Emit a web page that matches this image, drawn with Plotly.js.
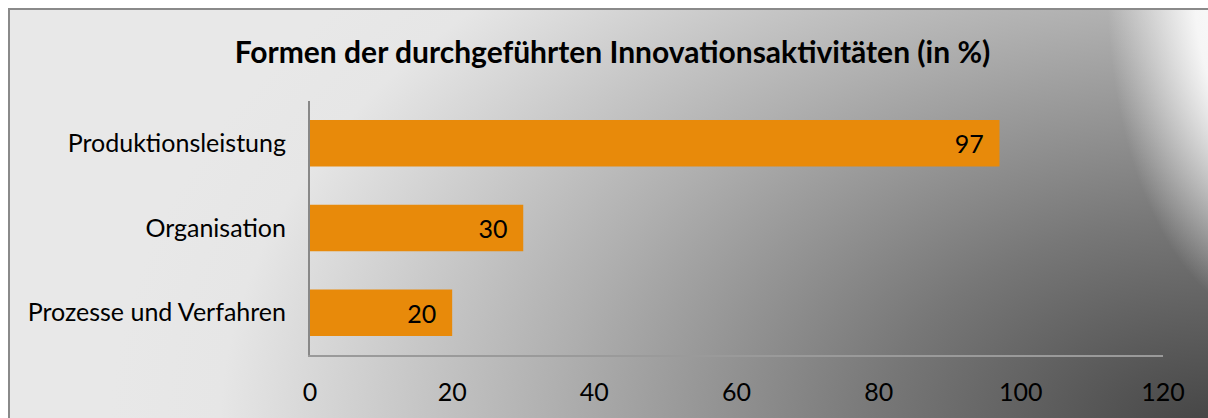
<!DOCTYPE html>
<html>
<head>
<meta charset="utf-8">
<script src="https://cdn.plot.ly/plotly-3.0.1.min.js"></script>
<style>
  html, body { margin: 0; padding: 0; background: #ffffff; overflow: hidden; }
  #frame {
    position: absolute; left: 8px; top: 8px; width: 1200px; height: 410px;
    border-left: 2px solid #8a8a8a; border-top: 2px solid #8a8a8a;
    background:
      radial-gradient(ellipse 175px 340px at 1272px -25px, rgba(255,255,255,1) 0%, rgba(250,250,250,0.95) 50%, rgba(255,255,255,0) 100%),
      radial-gradient(ellipse 1100px 700px at 1200px 420px, #444444 0%, #777777 30%, #b0b0b0 60%, #e6e6e6 90%, #e8e8e8 100%);
  }
  #chart { position: absolute; left: 0; top: 0; width: 1208px; height: 418px; }
</style>
</head>
<body>
<div id="frame"></div>
<div id="chart"></div>
<script>
const categories = ['Produktionsleistung', 'Organisation', 'Prozesse und Verfahren'];
const values = [97, 30, 20];
const xTicks = [0, 20, 40, 60, 80, 100, 120];
const titleText = '<b>Formen der durchgeführten Innovationsaktivitäten (in %)</b>';

const trace = {
  type: 'bar',
  orientation: 'h',
  y: categories,
  x: values,
  text: values.map(v => String(v) + '\u00a0\u00a0'),
  textposition: 'inside',
  insidetextanchor: 'end',
  textangle: 0,
  textfont: { family: 'Lato, sans-serif', size: 25, color: '#000000' },
  marker: { color: '#E88A0A', line: { width: 0 } },
  hoverinfo: 'none',
  cliponaxis: false
};

const layout = {
  width: 1208,
  height: 418,
  paper_bgcolor: 'rgba(0,0,0,0)',
  plot_bgcolor: 'rgba(0,0,0,0)',
  margin: { l: 310, r: 45, t: 101, b: 63, pad: 0 },
  showlegend: false,
  bargap: 0.45,
  font: { family: 'Lato, sans-serif', color: '#000000' },
  title: {
    text: titleText,
    font: { family: 'Lato, sans-serif', size: 30, color: '#000000' },
    x: 0.507, xanchor: 'center',
    y: 0.875, yanchor: 'middle', yref: 'container'
  },
  xaxis: {
    range: [0, 120],
    tickvals: xTicks,
    ticktext: xTicks.map(String),
    showgrid: false,
    zeroline: false,
    showline: true,
    linecolor: '#9a9a9a',
    linewidth: 2,
    ticks: '',
    ticklabelstandoff: 14,
    tickfont: { family: 'Lato, sans-serif', size: 25, color: '#000000' },
    fixedrange: true
  },
  yaxis: {
    type: 'category',
    categoryorder: 'array',
    categoryarray: categories,
    range: [2.5, -0.5],
    showgrid: false,
    zeroline: false,
    showline: true,
    linecolor: '#888888',
    linewidth: 2,
    ticks: '',
    ticklabelstandoff: 17,
    tickfont: { family: 'Lato, sans-serif', size: 25, color: '#000000' },
    fixedrange: true
  }
};

Plotly.newPlot('chart', [trace], layout, { displayModeBar: false, staticPlot: true });
</script>
</body>
</html>
